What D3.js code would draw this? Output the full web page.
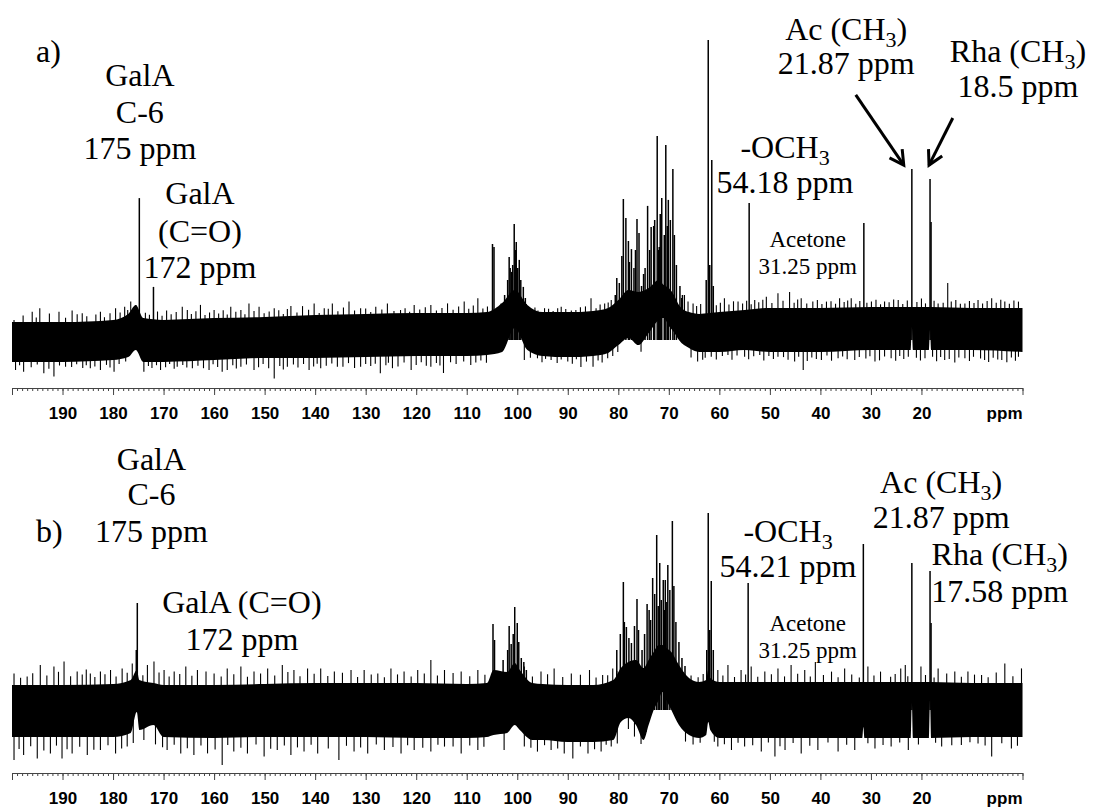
<!DOCTYPE html>
<html>
<head>
<meta charset="utf-8">
<script src="https://cdn.jsdelivr.net/npm/d3@7"></script>
<style>
  body { margin: 0; background: #fff; }
  svg { display: block; }
  .ann { font-family: "Liberation Serif", "Times New Roman", "DejaVu Serif", serif; font-size: 32px; fill: #000; }
  .ann.small { font-size: 23px; }
  .axis text { font-family: "Liberation Sans", Arial, sans-serif; font-weight: bold; font-size: 17px; fill: #000; }
  .axis path, .axis line { stroke: #444; }
</style>
</head>
<body>
<svg width="1093" height="812"></svg>
<script>
// ---- data ----
// ppm axis tick labels
var tickLabels = [190, 180, 170, 160, 150, 140, 130, 120, 110, 100, 90, 80, 70, 60, 50, 40, 30, 20];

// spectrum a) : intensity units, baseline = 0, largest peak = 100
var peaksA = [[174.8, 47.3], [172.0, 17.7], [104.9, 32], [104.6, 31], [102.5, 15], [101.9, 20],
  [101.6, 27.7], [101.4, 24], [101.1, 22.7], [100.9, 25], [100.6, 38.7], [100.4, 30], [100.2, 32.7],
  [99.9, 24], [99.6, 26.7], [99.3, 20], [98.8, 17.7], [98.4, 14], [80.6, 15], [80.3, 20.7], [79.8, 19],
  [79.3, 28], [79.0, 47], [78.5, 40.7], [78.0, 33], [77.8, 26], [77.4, 30.3], [76.9, 24], [76.6, 30],
  [76.3, 40.3], [75.9, 35.7], [75.4, 18], [75.0, 22], [74.7, 24], [74.2, 44.7], [73.8, 30], [73.5, 37.7],
  [73.0, 38], [72.8, 40], [72.3, 68], [72.0, 30], [71.9, 31], [71.7, 42], [71.4, 47.3], [70.9, 35],
  [70.6, 65], [70.3, 38], [70.1, 46.7], [69.7, 40], [69.2, 57], [68.9, 35], [68.5, 25], [67.8, 18],
  [67.3, 15], [62.6, 20], [62.2, 100], [61.9, 25], [61.5, 60], [61.2, 18], [54.1, 45.7], [31.4, 39],
  [21.9, 57], [18.3, 53.7], [18.1, 39.3]];

// noise band [ppm, upper, lower]
var envA = [[200, 6, -7.3], [190, 6, -7.3], [180, 6.7, -6.7], [177, 8.7, -5.7], [175.5, 11.7, -3.3],
  [174, 7.3, -7.3], [170, 6.7, -7.3], [160, 7.3, -6.7], [150, 7.7, -6], [140, 8.3, -6], [130, 8.7, -5.7],
  [120, 9, -5.3], [110, 9, -5.3], [106, 9.3, -5], [103, 12.3, -4], [100.5, 16.7, 4], [98, 11.7, -3.3],
  [95, 9.3, -5.3], [90, 9.3, -5.7], [85, 9.7, -5.3], [82, 10.7, -4.3], [80, 13.3, -1.7], [78, 16.7, 0.7],
  [76, 16, -1.7], [74, 17.3, 2.3], [72, 20, 6.7], [71, 18.3, 7.3], [70, 17.3, 4.7], [69, 15, 2.7],
  [68, 11.7, 0], [66, 9.3, -2.7], [64, 8.7, -4], [60, 9.3, -4], [55, 10, -3.3], [50, 10.7, -4],
  [40, 10.7, -4], [30, 11, -3.3], [22.1, 11, -3.3], [21.9, 11, 4.3], [21.7, 11, -3.3], [18.5, 11, -3.3],
  [18.3, 11, 3.3], [18.1, 11, -3.3], [10, 10.7, -3.3], [0, 10.7, -4]];

// tallest noise spikes above / below the band [ppm, intensity]
var upA = [[199.6, 6.7], [196, 9.4], [194.5, 10.6], [190.7, 9.4], [188.1, 9.8], [186.1, 8.9], [182.5, 9.4],
  [179.5, 10.6], [177.7, 11.1], [176.5, 12.8], [175.5, 11.7], [166.3, 11.1], [165.3, 10], [162.7, 11.7],
  [160, 10], [156.7, 11.1], [154.7, 10], [153.1, 12.2], [151.1, 11.1], [148.1, 10.6], [144.8, 11.3],
  [142.5, 11.3], [140.2, 12.2], [138.2, 10.6], [136.6, 12.2], [133.3, 12.8], [131, 10.6], [128, 11.1],
  [125.7, 12.2], [123.1, 10], [120.4, 11.7], [117.1, 11.7], [113.8, 12.2], [110.5, 12.8], [107.8, 13.9],
  [103.2, 12.2], [97.3, 10], [94.6, 10.6], [91.3, 11.1], [88.4, 10], [85.4, 13.9], [82.7, 12.2],
  [81.4, 13.3], [66.9, 15], [65.2, 12.2], [59, 13.9], [56.3, 12.8], [53, 13.3], [50.7, 14.4], [48.4, 15.6],
  [46.1, 16], [43.8, 13.9], [41.5, 12.8], [38.8, 12.8], [36.2, 13.9], [33.9, 13.9], [29.9, 12.8],
  [27.3, 12.8], [24.6, 13.3], [16.7, 12.2], [14.8, 19], [14.1, 12.8], [11.4, 12.2], [8.8, 13.3],
  [6.1, 13.9], [3.5, 12.8], [0.8, 12.8]];
var downA = [[199.3, -10], [197.7, -10.6], [193.7, -11.1], [191.7, -12.2], [189.4, -8.9], [184.5, -9.4],
  [182.5, -10], [179.8, -10.6], [173.9, -10.6], [170.6, -10], [167.3, -8.9], [164.3, -9.4], [161, -10],
  [158.4, -10.6], [157.4, -10], [154.7, -8.9], [152.1, -10], [148.1, -12.8], [145.5, -8.9], [141.2, -10],
  [138.9, -9.4], [135.6, -8.9], [131, -8.9], [127.1, -11.1], [124.7, -9.4], [121, -10], [117.1, -8.9],
  [114.6, -11], [109.2, -8.3], [98.6, -6.7], [96, -6.1], [93.3, -6.7], [90, -7.2], [87.4, -9],
  [85, -8.9], [82.1, -6.1], [75.5, -3.9], [64.3, -7.2], [61.6, -5.6], [58.3, -5], [55, -5.6], [52, -5],
  [48.4, -5.6], [45.1, -7.2], [43.4, -10], [39.8, -6.7], [36.5, -6.1], [33.2, -6.7], [29.2, -7.2],
  [26, -6.1], [22.6, -5.6], [19.3, -6.1], [15.4, -6.7], [11.4, -6.1], [7.5, -6.7], [4.1, -6.7], [0.8, -5.6]];

// shorter hairs on the band edges (estimated) [ppm, intensity]
var hairsA = [[197.8, 8.2], [195.2, 7.5], [192.6, 8.8], [189.4, 7.4], [187.1, 8.6], [185.2, 7.9], [183.4, 8.5],
  [181.7, 7.6], [180.6, 8.9], [178.6, 9.2], [177.1, 10], [173.6, 9.1], [172.8, 8.4], [171.2, 9.5],
  [170.3, 8.1], [169.4, 9.8], [168.5, 8.6], [167.5, 9.3], [164.5, 8.7], [163.6, 9.6], [161.8, 8.3],
  [160.9, 9.2], [159.1, 8.8], [158.2, 9.9], [157.4, 8.5], [155.7, 9.4], [153.9, 8.6], [152.1, 9.7],
  [150.1, 8.9], [149.1, 9.5], [147.2, 9.9], [146.3, 8.7], [145.5, 10.3], [143.6, 9.2], [141.3, 10.1],
  [139.2, 9.0], [137.4, 10.4], [135.5, 9.6], [134.4, 10.8], [132.2, 9.8], [130.0, 10.5], [129.0, 9.3],
  [126.8, 10.2], [124.4, 9.7], [122.2, 10.6], [121.3, 9.4], [119.3, 10.2], [118.2, 10.9], [116.0, 9.8],
  [114.9, 10.7], [112.7, 10.1], [111.6, 11.2], [109.6, 10.4], [108.7, 11.5], [106.8, 10.5], [105.9, 11.2],
  [98.2, 12], [96.5, 10.8], [95.9, 9.8], [93.8, 10.4], [92.9, 9.7], [92.0, 10.6], [90.4, 10.3],
  [89.3, 9.8], [87.5, 10.9], [86.5, 11.2], [84.4, 10.6], [83.6, 11.8], [82.0, 12.5], [67.5, 14],
  [66.2, 12.8], [64.5, 11.3], [63.7, 12], [60.6, 11.6], [59.8, 12.4], [58.1, 11.8], [57.2, 12.9],
  [55.4, 12.2], [54.6, 13.1], [53.7, 11.9], [52.2, 12.6], [51.4, 13.4], [49.6, 12.3], [47.4, 13.1],
  [45.2, 12.4], [44.5, 13.5], [42.7, 12.2], [40.6, 13.3], [39.7, 12.0], [37.9, 12.9], [37.0, 12.1],
  [35.3, 12.7], [34.6, 13.2], [33.0, 12.1], [32.2, 13.0], [30.8, 12.4], [29.0, 13.4], [28.1, 11.9],
  [26.4, 12.6], [25.5, 13.5], [23.7, 12.0], [22.8, 13.2], [20.9, 12.7], [20.0, 13.8], [19.2, 12.2],
  [17.5, 13.1], [15.7, 12.4], [13.2, 13.3], [12.3, 12.1], [10.5, 13.0], [9.6, 12.3], [7.9, 12.2],
  [7.0, 13.0], [5.2, 12.4], [4.3, 13.4], [2.6, 12.1], [1.7, 13.2],
  [198.5, -8.4], [196.2, -9.1], [195.0, -8.2], [192.7, -9.6], [190.6, -8.5], [188.2, -9.0], [187.2, -8.1],
  [186.0, -9.3], [185.3, -8.4], [183.6, -8.8], [181.3, -8.3], [180.6, -9.2], [178.8, -8.0], [177.5, -7.2],
  [173.0, -8.7], [172.3, -9.3], [171.4, -8.4], [169.6, -9.1], [168.8, -8.0], [167.9, -9.6], [166.2, -8.3],
  [165.4, -9.2], [163.2, -8.6], [162.1, -9.4], [160.2, -8.1], [159.3, -9.0], [156.3, -8.4], [155.6, -9.5],
  [153.6, -8.2], [151.2, -9.1], [150.3, -8.0], [149.2, -9.4], [147.0, -8.7], [146.3, -9.8], [144.3, -8.2],
  [143.4, -9.2], [142.3, -8.0], [140.3, -8.8], [139.6, -7.9], [137.8, -8.6], [136.7, -7.8], [134.5, -8.9],
  [133.4, -7.7], [132.2, -9.3], [130.0, -8.0], [129.0, -8.7], [128.1, -7.9], [126.0, -8.4], [125.5, -7.6],
  [123.6, -8.8], [122.4, -7.5], [120.0, -8.3], [119.0, -7.4], [118.0, -8.6], [116.0, -7.7], [115.3, -8.5],
  [113.2, -7.4], [112.1, -8.0], [110.6, -7.2], [108.2, -7.5], [107.2, -6.8], [106.1, -7.6], [97.4, -5.9],
  [95.1, -7.4], [94.4, -6.3], [92.1, -7.7], [91.3, -6.5], [89.1, -7.9], [88.3, -6.4], [86.3, -7.2],
  [84.0, -6.8], [83.2, -7.5], [81.1, -5.3], [80.1, -4.0], [65.6, -5.8], [63.3, -6.6], [62.8, -5.9],
  [60.6, -6.5], [59.4, -5.3], [57.5, -6.6], [56.5, -5.2], [54.2, -6.4], [53.2, -5.4], [51.2, -6.8],
  [50.2, -5.3], [49.3, -6.3], [47.3, -5.7], [46.4, -6.6], [44.3, -5.6], [42.6, -7.0], [41.7, -5.8],
  [40.8, -6.3], [38.7, -5.2], [37.8, -6.9], [35.6, -5.5], [34.7, -6.4], [32.3, -5.7], [31.0, -6.2],
  [30.2, -5.4], [28.3, -6.8], [27.3, -5.5], [25.1, -6.9], [24.3, -5.3], [23.5, -6.3], [21.0, -5.9],
  [20.2, -6.8], [17.8, -5.6], [17.0, -7.1], [16.2, -5.7], [14.5, -6.3], [13.4, -7.5], [12.6, -5.8],
  [10.5, -7.0], [9.7, -5.6], [8.3, -6.2], [6.7, -7.3], [5.8, -5.9], [4.9, -6.5], [3.1, -7.4], [2.2, -5.8],
  [1.4, -6.9]];

// spectrum b)
var peaksB = [[175.2, 53.5], [175.4, 30], [104.8, 43], [104.5, 35], [102.8, 25], [101.9, 30], [101.6, 42],
  [101.2, 33], [100.8, 38], [100.5, 51.5], [100.0, 43.5], [99.7, 34], [99.2, 26], [98.7, 24], [98.2, 20],
  [80.3, 30], [79.6, 38], [79.0, 64], [78.8, 44], [78.4, 41.5], [77.9, 36], [77.4, 33.5], [76.8, 42],
  [76.3, 55.5], [76.0, 40], [75.3, 30], [74.8, 38], [74.3, 53], [73.9, 50], [73.6, 45], [73.2, 66],
  [72.8, 58], [72.4, 87.5], [72.1, 52], [71.8, 73.5], [71.5, 55], [71.1, 65], [70.9, 50], [70.7, 65],
  [70.4, 54], [70.2, 72.5], [69.8, 60], [69.3, 94.5], [69.0, 62], [68.6, 44], [68.0, 34], [67.4, 26],
  [66.8, 22], [62.5, 30], [62.2, 98.5], [61.9, 40], [61.6, 64.5], [61.2, 30], [54.3, 63.5], [31.5, 83],
  [21.9, 73.5], [18.3, 69.5], [18.1, 43.5]];

var envB = [[200, 12.5, -13.5], [190, 12.5, -13.5], [180, 13, -13.5], [176.5, 15, -11.5], [175.3, 20, -1],
  [174.8, 15, -10], [172, 13.5, -7.5], [170, 12.5, -13.5], [160, 12.5, -14], [150, 13, -13.5],
  [140, 13.5, -13.5], [130, 13.5, -13.5], [120, 13.5, -14], [110, 13, -14], [106, 13.5, -13.5],
  [104.7, 20, -12.5], [102, 19, -11.5], [100.5, 23.5, -7.5], [99.5, 20, -10], [97, 13.5, -15],
  [95, 13, -15], [90, 12.5, -16], [85, 12.5, -16], [81, 15, -15], [79.5, 21, -6], [78, 24, -4],
  [76.5, 25, -7.5], [75, 21, -15], [74, 25, -7.5], [73, 29, 0], [72, 32.5, 5], [71.3, 32.5, 9],
  [70.5, 31, 5], [69.5, 29, 0], [68, 22.5, -7.5], [66, 16, -12.5], [64, 14, -14], [62.6, 15, -12.5],
  [62.2, 20, -6], [61.8, 16, -10], [60, 14, -14], [50, 14, -14], [40, 14, -14], [31.7, 14, -14],
  [31.5, 14, -8.5], [31.3, 14, -14], [22.1, 14, -14], [21.9, 14, 3.5], [21.7, 14, -14], [18.5, 14, -14],
  [18.3, 14, 5], [18.1, 14, -14], [10, 13.5, -13.5], [0, 13.5, -13.5]];

var upB = [[199.6, 18.3], [197, 16.7], [194.4, 22.5], [191.7, 21.7], [189.7, 24.2], [187.1, 19.2],
  [184.5, 18.3], [182.5, 19.2], [180.5, 20], [178.2, 20.8], [176.2, 23.3], [173.2, 22.5], [171.9, 24.2],
  [169.9, 20], [167.9, 19.2], [165.6, 21.7], [163.3, 20], [160, 18.3], [157.4, 20.8], [154.7, 21.7],
  [152.1, 19.2], [149.4, 20.8], [146.5, 22.5], [144.2, 20], [141.5, 20.8], [138.9, 20.8], [136.2, 19.2],
  [132.9, 20], [130.3, 20], [127.6, 18.3], [125, 20.8], [122.4, 19.2], [119.7, 20], [117.1, 25],
  [114.4, 20], [111.1, 19.2], [107.8, 20], [98.6, 21.7], [95.3, 19.2], [92.7, 20.8], [89.3, 18.3],
  [85.7, 20], [83.1, 17.5], [81.1, 20.8], [60.3, 20], [58.3, 22.5], [55.7, 20], [53.7, 21.7], [51, 19.2],
  [48.4, 20.8], [45.8, 22.5], [43.1, 20], [41, 24], [37.8, 19.2], [35.2, 20.8], [30.6, 21.7],
  [28.1, 19.2], [24.1, 20.8], [23.2, 22.5], [20.1, 21.7], [16.7, 20.8], [13.4, 19.2], [10.8, 19.2],
  [8.1, 17.5], [3.5, 23.3], [0.2, 20.8]];
var downB = [[199.6, -25], [197.7, -22.5], [195, -24.2], [192.4, -21.7], [190.1, -24.2], [188.1, -21.7],
  [185.1, -22.5], [182.5, -20], [179.5, -21.7], [177.2, -18.3], [173.9, -15], [169.3, -20], [166.6, -21.7],
  [164, -22.5], [161.3, -21.7], [158.4, -27.5], [156.1, -20.8], [153.4, -21.7], [150.1, -23.3],
  [147.5, -20], [144.8, -22.5], [142.2, -20.8], [139.5, -21.7], [135.3, -25], [132.3, -20.8],
  [129.6, -21.7], [126.3, -20], [123, -21.7], [120.4, -20], [117.1, -20.8], [114.4, -18.3], [111.1, -21.7],
  [107.8, -20], [102.6, -20], [98.6, -18.3], [96, -20.8], [93.3, -20], [90.7, -21.7], [89, -24.2],
  [86, -21.7], [83.4, -20.8], [81.4, -18.3], [76.8, -13.3], [60.3, -18.3], [57.6, -20], [55, -18.3],
  [51.7, -20.8], [49, -23.3], [47, -20], [43.8, -21.7], [40.5, -20], [36.5, -20.8], [33.2, -20],
  [29.2, -19.2], [26, -18.3], [22.6, -20], [16, -18.3], [12.1, -17.5], [8.8, -16.7], [6.1, -23.3],
  [2.2, -19.2]];

var hairsB = [[198.3, 16.1], [195.9, 18.4], [193.1, 17.2], [190.8, 19.1], [188.4, 16.9], [186.1, 17.8],
  [185.3, 20.2], [183.6, 16.5], [181.6, 17.9], [179.4, 16.8], [177.2, 18.6], [174.1, 17.4], [170.9, 18.8],
  [168.9, 16.7], [166.8, 18.0], [164.4, 17.1], [161.6, 19.3], [158.6, 16.8], [156.1, 17.9], [153.4, 16.6],
  [150.8, 18.2], [148.0, 17.3], [145.4, 19.0], [143.0, 16.9], [140.2, 18.1], [137.5, 17.0], [134.6, 18.6],
  [131.6, 16.5], [128.9, 17.7], [126.3, 16.4], [123.7, 17.8], [121.0, 16.7], [118.4, 18.3], [115.8, 17.2],
  [112.7, 18.5], [109.4, 16.9], [106.4, 17.6], [97.0, 16.8], [94.0, 17.9], [91.0, 16.5], [87.5, 17.6],
  [84.4, 16.3], [82.1, 17.4], [80.3, 19.5], [67.2, 19.0], [65.6, 17.2], [64.2, 16.4], [63.2, 18.0],
  [59.3, 17.3], [57.0, 16.5], [54.8, 17.8], [52.4, 16.6], [49.7, 17.9], [47.1, 16.8], [44.5, 18.1],
  [42.0, 16.7], [39.4, 17.5], [36.5, 16.4], [33.8, 17.8], [32.3, 16.2], [29.4, 17.3], [26.1, 16.6],
  [25.2, 18.0], [22.7, 16.9], [19.2, 17.5], [17.5, 16.3], [15.0, 18.2], [12.1, 16.6], [9.5, 17.7],
  [6.8, 16.4], [5.2, 18.8], [1.9, 16.9],
  [198.6, -19.5], [196.3, -18.1], [193.7, -20.3], [191.2, -17.8], [189.1, -19.6], [186.6, -18.4],
  [183.8, -19.9], [181.0, -17.6], [178.3, -19.2], [176.0, -16.5], [171.6, -17.2], [170.2, -18.6],
  [167.9, -17.4], [165.3, -19.1], [162.6, -17.7], [159.8, -19.8], [157.3, -17.5], [154.7, -18.9],
  [151.7, -17.3], [148.8, -19.4], [146.1, -17.8], [143.5, -18.7], [140.8, -17.4], [137.4, -19.3],
  [133.8, -17.9], [131.0, -18.8], [127.9, -17.2], [124.6, -18.5], [121.7, -17.6], [118.7, -18.9],
  [115.7, -17.4], [112.7, -18.2], [109.4, -17.7], [106.6, -18.4], [97.3, -18.9], [94.6, -17.6],
  [92.0, -19.3], [87.5, -18.2], [84.7, -19.6], [82.4, -17.4], [80.2, -16.8], [78.0, -9.5], [75.5, -17.0],
  [74.5, -11.0], [66.7, -15.8], [65.2, -17.2], [63.8, -16.4], [61.0, -15.9], [59.0, -17.1], [56.3, -16.4],
  [53.4, -17.6], [50.3, -16.2], [48.0, -18.1], [45.4, -16.5], [42.1, -17.9], [38.5, -16.3], [34.8, -17.4],
  [30.6, -16.6], [27.6, -17.5], [24.3, -16.2], [20.6, -17.3], [17.2, -16.4], [14.0, -17.6], [10.4, -16.1],
  [7.4, -17.8], [4.1, -16.6], [1.0, -17.9]];

// annotations: text lines anchored in ppm / intensity
var labelsA = [
  {lines: [['a)']], ppm: 195.25, v: [92.7], anchor: 'start'},
  {lines: [['GalA'], ['C-6'], ['175 ppm']], ppm: 174.7, v: [84.7, 72.3, 60.3]},
  {lines: [['GalA'], ['(C=O)'], ['172 ppm']], ppm: 162.8, v: [45.3, 32.7, 20.7]},
  {lines: [['-OCH', '3'], ['54.18 ppm']], ppm: 47.0, v: [60.7, 49]},
  {lines: [['Acetone'], ['31.25 ppm']], ppm: 42.5, v: [31, 22], small: true},
  {lines: [['Ac (CH', '3', ')'], ['21.87 ppm']], ppm: 34.9, v: [100, 88.7]},
  {lines: [['Rha (CH', '3', ')'], ['18.5 ppm']], ppm: 0.9, v: [92.7, 81]}
];
var arrowsA = [[[33.0, 81.7], [23.5, 58.3]], [[13.8, 74], [18.5, 58.3]]];

var labelsB = [
  {lines: [['b)']], ppm: 195.25, v: [84], anchor: 'start'},
  {lines: [['GalA'], ['C-6'], ['175 ppm']], ppm: 172.4, v: [120, 102.5, 84]},
  {lines: [['GalA (C=O)'], ['172 ppm']], ppm: 154.5, v: [48.5, 30]},
  {lines: [['-OCH', '3'], ['54.21 ppm']], ppm: 46.4, v: [84, 66.5]},
  {lines: [['Acetone'], ['31.25 ppm']], ppm: 42.5, v: [39.5, 26], small: true},
  {lines: [['Ac (CH', '3', ')'], ['21.87 ppm']], ppm: 16.1, v: [108.5, 91]},
  {lines: [['Rha (CH', '3', ')'], ['17.58 ppm']], ppm: 4.5, v: [72.5, 54]}
];

// ---- layout ----
var svg = d3.select('svg');
var x = d3.scaleLinear().domain([200, 0]).range([12, 1022.5]);
var yA = d3.scaleLinear().domain([-16, 100]).range([388, 40]);
var yB = d3.scaleLinear().domain([-31.5, 98.5]).range([773, 513]);

function drawPanel(y, env, spikes, hairs, peaks, labels, arrows) {
  var g = svg.append('g');
  var band = d3.area().curve(d3.curveMonotoneX)
    .x(d => x(d[0])).y0(d => y(d[2])).y1(d => y(d[1]));
  g.append('path').attr('d', band(env.slice().reverse())).attr('fill', '#000');

  // noise hairs, then the taller spikes, then resonances
  g.selectAll('.hair').data(hairs.concat(spikes)).join('line')
    .attr('class', 'hair')
    .attr('x1', d => x(d[0])).attr('x2', d => x(d[0]))
    .attr('y1', y(0)).attr('y2', d => y(d[1]))
    .attr('stroke', '#000').attr('stroke-width', 1.1);

  g.selectAll('.peak').data(peaks).join('line')
    .attr('class', 'peak')
    .attr('x1', d => x(d[0])).attr('x2', d => x(d[0]))
    .attr('y1', y(0)).attr('y2', d => y(d[1]))
    .attr('stroke', '#000').attr('stroke-width', 1.5);

  // axis: minor ticks each ppm, major every 10
  var y0 = y.range()[0];
  g.append('g').attr('class', 'axis').attr('transform', 'translate(0,' + y0 + ')')
    .call(d3.axisBottom(x).tickValues(d3.range(0, 201, 1)).tickSize(3).tickSizeOuter(0).tickFormat(''));
  g.append('g').attr('class', 'axis').attr('transform', 'translate(0,' + y0 + ')')
    .call(d3.axisBottom(x).tickValues(tickLabels).tickSize(7).tickSizeOuter(7).tickPadding(12))
    .call(a => a.selectAll('text').attr('dy', '0.71em'));
  g.append('text')
    .attr('x', x(0)).attr('y', y0 + 31)
    .attr('text-anchor', 'end')
    .style('font-family', '"Liberation Sans", Arial, sans-serif')
    .style('font-weight', 'bold').style('font-size', '17px')
    .text('ppm');

  labels.forEach(function(l) {
    l.lines.forEach(function(parts, i) {
      var t = g.append('text').attr('class', 'ann' + (l.small ? ' small' : ''))
        .attr('x', x(l.ppm)).attr('y', y(l.v[i]))
        .attr('text-anchor', l.anchor || 'middle');
      t.append('tspan').text(parts[0]);
      if (parts.length > 1) {
        t.append('tspan').attr('dy', 7).style('font-size', '22px').text(parts[1]);
        if (parts[2]) t.append('tspan').attr('dy', -7).text(parts[2]);
      }
    });
  });

  (arrows || []).forEach(function(a) {
    var x1 = x(a[0][0]), y1 = y(a[0][1]), x2 = x(a[1][0]), y2 = y(a[1][1]);
    var ang = Math.atan2(y2 - y1, x2 - x1), len = 16, spread = 0.5;
    g.append('line').attr('x1', x1).attr('y1', y1).attr('x2', x2).attr('y2', y2)
      .attr('stroke', '#000').attr('stroke-width', 3);
    g.append('path')
      .attr('d', 'M' + (x2 - len * Math.cos(ang - spread)) + ',' + (y2 - len * Math.sin(ang - spread)) +
        'L' + x2 + ',' + y2 +
        'L' + (x2 - len * Math.cos(ang + spread)) + ',' + (y2 - len * Math.sin(ang + spread)))
      .attr('fill', 'none').attr('stroke', '#000').attr('stroke-width', 3);
  });
}

drawPanel(yA, envA, upA.concat(downA), hairsA, peaksA, labelsA, arrowsA);
drawPanel(yB, envB, upB.concat(downB), hairsB, peaksB, labelsB, []);
</script>
</body>
</html>
